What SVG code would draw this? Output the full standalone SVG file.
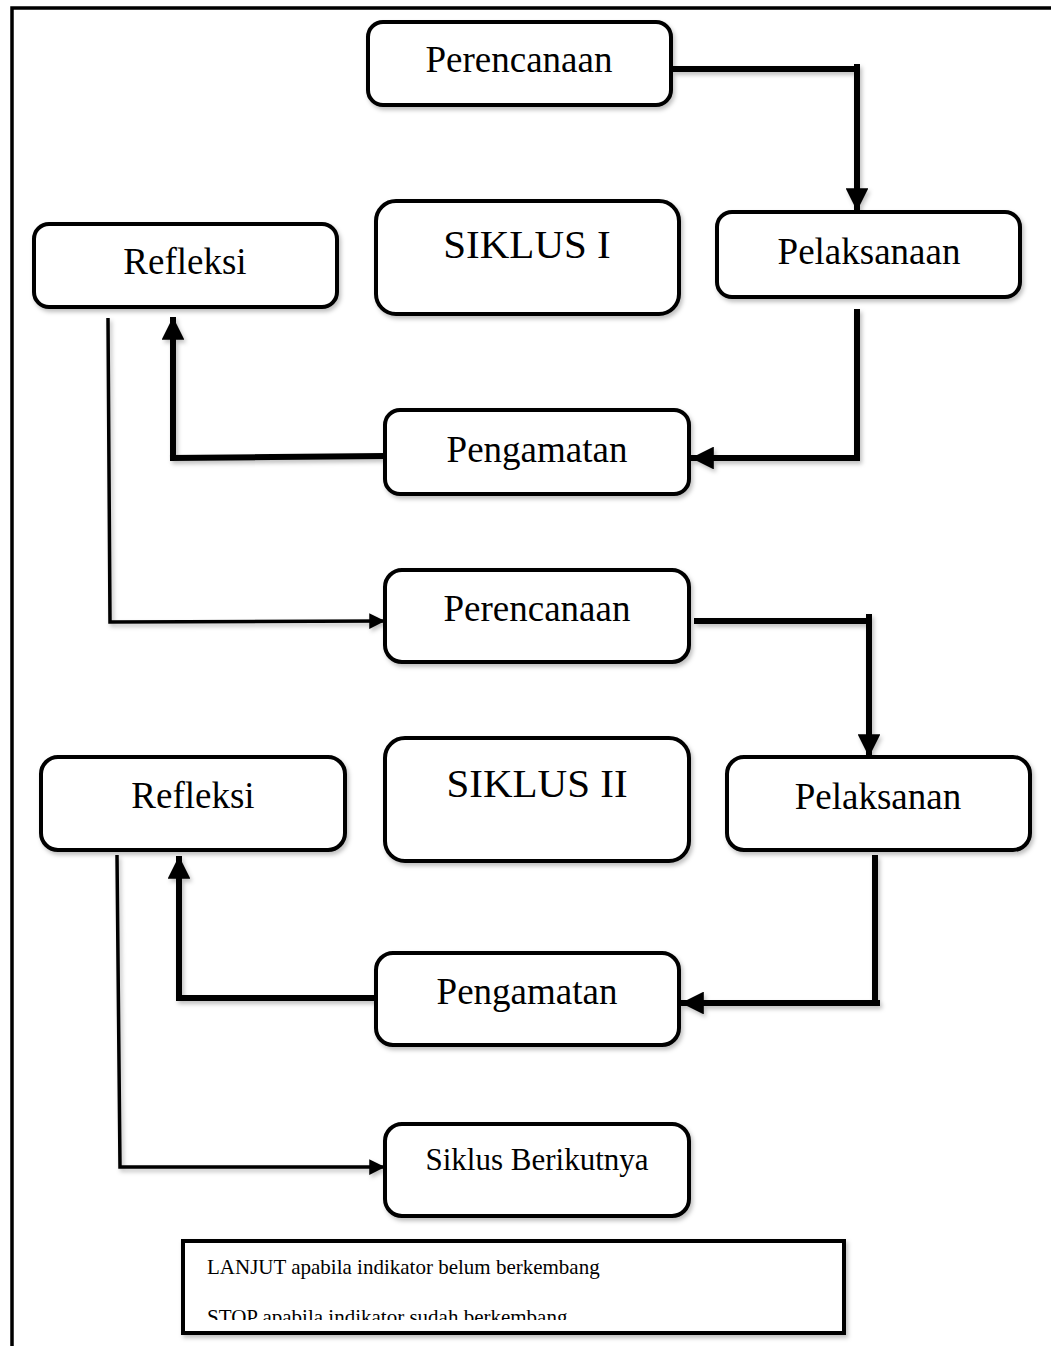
<svg xmlns="http://www.w3.org/2000/svg" width="1051" height="1346" viewBox="0 0 1051 1346">
<style>
.box{fill:#fff;stroke:#000;stroke-width:4;filter:url(#sh)}
.lbl{font-family:"Liberation Serif","Times New Roman",serif;fill:#000;text-anchor:middle}
.thick{fill:none;stroke:#000;stroke-width:6;filter:url(#sh)}
.thin{fill:none;stroke:#000;stroke-width:3.5;filter:url(#sh)}
.leg{font-family:"Liberation Serif","Times New Roman",serif;font-size:21px;fill:#000}
</style>
<defs>
<filter id="sh" x="-10%" y="-10%" width="130%" height="130%">
<feDropShadow dx="2" dy="3" stdDeviation="2" flood-color="#000" flood-opacity="0.25"/>
</filter>
<marker id="ah" viewBox="0 0 10 10" refX="10" refY="5" markerWidth="4" markerHeight="3.8" markerUnits="strokeWidth" orient="auto">
<path d="M0,0 L10,5 L0,10 Z" fill="#000"/>
</marker>
<marker id="as" viewBox="0 0 10 10" refX="10" refY="5" markerWidth="4.5" markerHeight="4.5" markerUnits="strokeWidth" orient="auto">
<path d="M0,0 L10,5 L0,10 Z" fill="#000"/>
</marker>
<clipPath id="legclip"><rect x="186" y="1244" width="655" height="76"/></clipPath>
</defs>
<rect width="1051" height="1346" fill="#fff"/>
<path d="M12,1346 L12,8 L1051,8" fill="none" stroke="#000" stroke-width="3.5"/>

<g id="connectors">
<path class="thick" d="M673,69 L857,69 L857,64 L857,211" marker-end="url(#ah)"/>
<path class="thick" d="M857,309 L857,458 L691,458" marker-end="url(#ah)"/>
<path class="thick" d="M385,456 L170,458 M173,458 L173,317" marker-end="url(#ah)"/>
<path class="thin" d="M108,318 L110,622 L385,621" marker-end="url(#as)"/>
<path class="thick" d="M694,621 L871,621 M869,614 L869,757" marker-end="url(#ah)"/>
<path class="thick" d="M875,855 L875,1000 M880,1003 L681,1003" marker-end="url(#ah)"/>
<path class="thick" d="M376,998 L176,998 M179,1000 L179,856" marker-end="url(#ah)"/>
<path class="thin" d="M117,855 L120,1167 L385,1167" marker-end="url(#as)"/>
</g>

<g id="perencanaan1">
<rect class="box" x="368" y="22" width="303" height="83" rx="15"/>
<text class="lbl" x="519" y="72" font-size="37">Perencanaan</text>
</g>
<g id="siklus1">
<rect class="box" x="376" y="201" width="303" height="113" rx="20"/>
<text class="lbl" x="527" y="258" font-size="41">SIKLUS I</text>
</g>
<g id="pelaksanaan1">
<rect class="box" x="717" y="212" width="303" height="85" rx="15"/>
<text class="lbl" x="869" y="264" font-size="37">Pelaksanaan</text>
</g>
<g id="refleksi1">
<rect class="box" x="34" y="224" width="303" height="83" rx="15"/>
<text class="lbl" x="185" y="274" font-size="37">Refleksi</text>
</g>
<g id="pengamatan1">
<rect class="box" x="385" y="410" width="304" height="84" rx="15"/>
<text class="lbl" x="537" y="462" font-size="37">Pengamatan</text>
</g>
<g id="perencanaan2">
<rect class="box" x="385" y="570" width="304" height="92" rx="17"/>
<text class="lbl" x="537" y="621" font-size="37">Perencanaan</text>
</g>
<g id="siklus2">
<rect class="box" x="385" y="738" width="304" height="123" rx="20"/>
<text class="lbl" x="537" y="797" font-size="41">SIKLUS II</text>
</g>
<g id="pelaksanan2">
<rect class="box" x="727" y="757" width="303" height="93" rx="17"/>
<text class="lbl" x="878" y="809" font-size="37">Pelaksanan</text>
</g>
<g id="refleksi2">
<rect class="box" x="41" y="757" width="304" height="93" rx="17"/>
<text class="lbl" x="193" y="808" font-size="37">Refleksi</text>
</g>
<g id="pengamatan2">
<rect class="box" x="376" y="953" width="303" height="92" rx="17"/>
<text class="lbl" x="527" y="1004" font-size="37">Pengamatan</text>
</g>
<g id="siklus-berikutnya">
<rect class="box" x="385" y="1124" width="304" height="92" rx="17"/>
<text class="lbl" x="537" y="1170" font-size="31">Siklus Berikutnya</text>
</g>
<g id="legend">
<rect x="183" y="1241" width="661" height="92" fill="#fff" stroke="#000" stroke-width="4" filter="url(#sh)"/>
<g clip-path="url(#legclip)">
<text class="leg" x="207" y="1274">LANJUT apabila indikator belum berkembang</text>
<text class="leg" x="207" y="1324">STOP apabila indikator sudah berkembang</text>
</g>
</g>
</svg>
